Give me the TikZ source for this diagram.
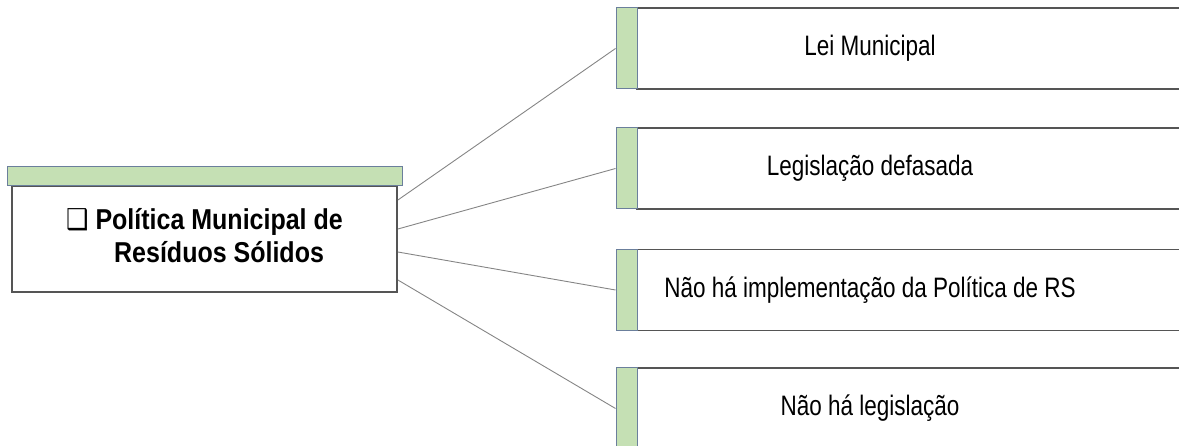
\documentclass[tikz,border=0pt]{standalone}
\usepackage{fontspec, graphicx}
\setmainfont{Liberation Sans}
\newfontfamily\symfont{DejaVu Sans}
\usetikzlibrary{positioning}
\definecolor{tabgreen}{HTML}{C5E0B4}
\definecolor{tabline}{HTML}{6B7F9C}
\definecolor{boxline}{HTML}{555555}
\definecolor{connline}{HTML}{858585}
\newcommand{\tall}[2][1.25]{\scalebox{1}[#1]{#2}}
\tikzset{
greenbar/.style={draw=tabline, fill=tabgreen, line width=1pt, inner sep=0pt},
whitebox/.style={draw=boxline, fill=white, line width=1.8pt, inner sep=0pt},
conn/.style={draw=connline, line width=0.9pt},
lbl/.style={font=\fontsize{22.5}{26}\selectfont}
}

\begin{document}
\begin{tikzpicture}[x=1pt,y=-1pt]
\useasboundingbox (0,0) rectangle (1179,446);
\clip (0,0) rectangle (1179,446);
\node[whitebox, minimum width=385pt, minimum height=106pt,
font=\bfseries\fontsize{25}{30}\selectfont] (lpol) at (204.5,239)
{\tall[1.15]{\begin{tabular}{@{}l@{}}{\symfont ❑} Política Municipal de\\[-1pt]
\hspace*{48pt}Resíduos Sólidos\end{tabular}}};
\node[greenbar, minimum width=395pt, minimum height=19pt] (lbar) at (204.5,176.5) {};
\foreach \i/\y/\t in {1/48.5/Lei Municipal, 2/168.5/Legislação defasada,
3/290/Não há implementação da Política de RS, 4/408.5/Não há legislação}{
\node[whitebox, minimum width=560pt, minimum height=81pt] (box\i) at (917,\y) {};
\node[greenbar, minimum width=21pt, minimum height=81pt] (tab\i) at (626.5,\y) {};
\node[lbl] (txt\i) at (870,\y) {\tall{\t}};
}
\foreach \i/\s in {1/39,2/10,3/-13,4/-41}
\draw[conn] ([yshift=\s pt]lpol.east) -- (tab\i.west);
\end{tikzpicture}
\end{document}
